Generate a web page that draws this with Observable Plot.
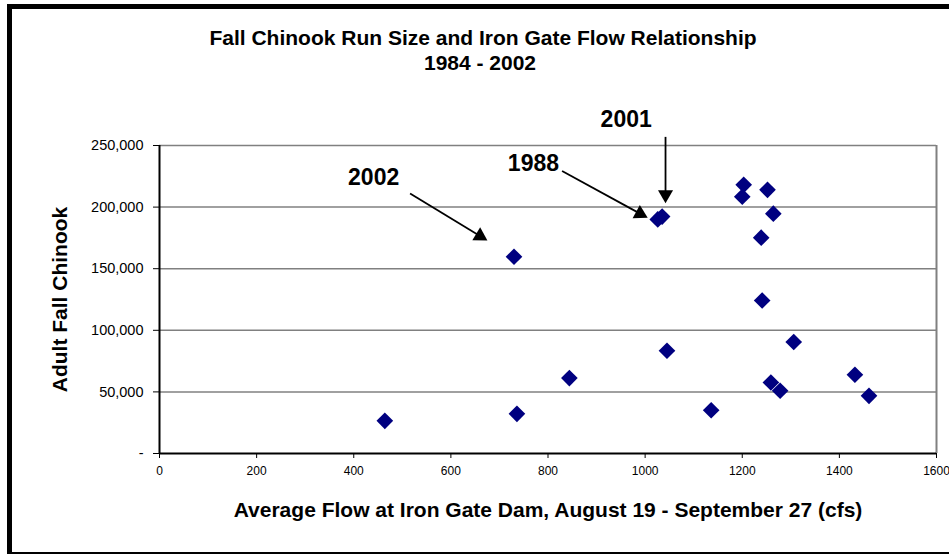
<!DOCTYPE html>
<html>
<head>
<meta charset="utf-8">
<script src="https://cdn.jsdelivr.net/npm/d3@7"></script>
<script src="https://cdn.jsdelivr.net/npm/@observablehq/plot@0.6"></script>
<style>
  html, body { margin: 0; padding: 0; background: #fff; overflow: hidden; width: 949px; height: 554px; }
  #wrap { position: relative; width: 949px; height: 554px; overflow: hidden; }
  #border { position: absolute; left: 7px; top: 4px; width: 1000px; height: 543px;
            border-left: 5px solid #000; border-top: 5px solid #000; border-bottom: 2px solid #000; }
  #chart { position: absolute; left: 0; top: 0; }
</style>
</head>
<body>
<div id="wrap"><div id="border"></div><div id="chart"></div></div>
<script>
// ---- data ----
const flow = [464, 730, 736, 844, 1026, 1035, 1045, 1136, 1200, 1203, 1239, 1241, 1252, 1259, 1264, 1278, 1306, 1432, 1461];
const fish = [26500, 159700, 32200, 61200, 190000, 192300, 83400, 35100, 208400, 218100, 175200, 124200, 214000, 57600, 194700, 50900, 90500, 63900, 46800];
const xTicks = [0, 200, 400, 600, 800, 1000, 1200, 1400, 1600];
const yTicks = [0, 50000, 100000, 150000, 200000, 250000];
const titleText = "Fall Chinook Run Size and Iron Gate Flow Relationship";
const subtitleText = "1984 - 2002";
const xLabel = "Average Flow at Iron Gate Dam, August 19 - September 27 (cfs)";
const yLabel = "Adult Fall Chinook";
// annotations (data coordinates)
const noteLabels = ["2002", "1988", "2001"];
const noteX = [441, 770, 961];
const noteY = [224200, 234900, 271400];
const arrowX1 = [516, 829, 1042];
const arrowY1 = [211000, 229300, 257000];
const arrowX2 = [674, 1004, 1042];
const arrowY2 = [173200, 191600, 203700];

const W = 949, H = 554, mL = 159, mR = 13, mT = 145, mB = 101;
const xs = d3.scaleLinear([0, 1600], [mL, W - mR]);
const ys = d3.scaleLinear([0, 250000], [H - mB, mT]);

const points = flow.map((f, i) => ({flow: f, fish: fish[i]}));
const notes = noteLabels.map((t, i) => ({t, x: noteX[i], y: noteY[i]}));
const headLen = 8; // px from triangle centroid to tip
const arrows = noteLabels.map((t, i) => {
  const px1 = xs(arrowX1[i]), py1 = ys(arrowY1[i]);
  const px2 = xs(arrowX2[i]), py2 = ys(arrowY2[i]);
  const dx = px2 - px1, dy = py2 - py1, len = Math.hypot(dx, dy);
  const cx = px2 - dx / len * headLen, cy = py2 - dy / len * headLen;
  return {x1: arrowX1[i], y1: arrowY1[i], hx: xs.invert(cx), hy: ys.invert(cy),
          rot: Math.atan2(dx, -dy) * 180 / Math.PI};
});

const font = "'Liberation Sans', Arial, Helvetica, sans-serif";
const plot = Plot.plot({
  width: W, height: H,
  marginLeft: mL, marginRight: mR, marginTop: mT, marginBottom: mB,
  style: {fontFamily: font, background: "transparent", color: "#000"},
  x: {domain: [0, 1600]},
  y: {domain: [0, 250000]},
  marks: [
    Plot.ruleY(yTicks.filter(d => d > 0), {stroke: "#808080", strokeWidth: 1.5}),
    Plot.ruleX([1600], {stroke: "#808080", strokeWidth: 2}),
    Plot.axisX({ticks: xTicks, tickSize: 5, tickPadding: 8, fontSize: 12, label: null, tickFormat: d => String(d)}),
    Plot.axisY({ticks: yTicks, tickSize: 6, tickPadding: 10, fontSize: 14.5, label: null,
                tickFormat: d => d === 0 ? "-" : d3.format(",")(d)}),
    Plot.ruleX([0], {stroke: "#000", strokeWidth: 2}),
    Plot.ruleY([0], {stroke: "#000", strokeWidth: 2}),
    Plot.dot(points, {x: "flow", y: "fish", symbol: "diamond2", r: 7.5, fill: "#000080", stroke: "none"}),
    Plot.link(arrows, {x1: "x1", y1: "y1", x2: "hx", y2: "hy", stroke: "#000", strokeWidth: 1.8, clip: false}),
    Plot.dot(arrows, {x: "hx", y: "hy", symbol: "triangle", r: 5.6, rotate: "rot", fill: "#000", stroke: "none"}),
    Plot.text(notes, {x: "x", y: "y", text: "t", fontSize: 23, fontWeight: "bold", fill: "#000", lineAnchor: "middle"}),
    Plot.text([yLabel], {frameAnchor: "left", dx: -99, rotate: -90, fontSize: 21, fontWeight: "bold", fill: "#000",
                         textAnchor: "middle", lineAnchor: "middle"}),
    Plot.text([xLabel], {frameAnchor: "bottom", dy: 57, fontSize: 21, fontWeight: "bold", fill: "#000",
                         textAnchor: "middle", lineAnchor: "middle"}),
    Plot.text([titleText], {frameAnchor: "top", dx: -65, dy: -107, fontSize: 21, fontWeight: "bold", fill: "#000",
                            textAnchor: "middle", lineAnchor: "middle"}),
    Plot.text([subtitleText], {frameAnchor: "top", dx: -68, dy: -82, fontSize: 21, fontWeight: "bold", fill: "#000",
                               textAnchor: "middle", lineAnchor: "middle"})
  ]
});
document.getElementById("chart").appendChild(plot);
</script>
</body>
</html>
